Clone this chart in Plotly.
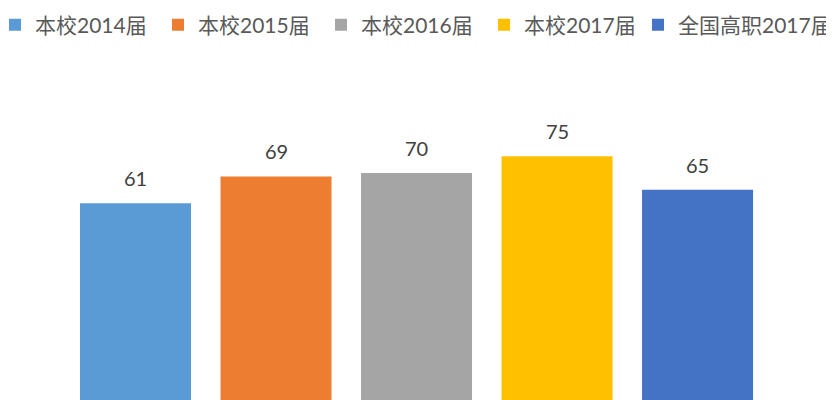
import plotly.graph_objects as go

series_names = ['本校2014届', '本校2015届', '本校2016届', '本校2017届', '全国高职2017届']
values = [61, 69, 70, 75, 65]
colors = ['#5B9BD5', '#ED7D31', '#A5A5A5', '#FFC000', '#4472C4']
# last entry goes to its own legend so its longer label is not clipped
legend_ids = ['legend', 'legend', 'legend', 'legend', 'legend2']

font_family = 'Lato, "Noto Sans CJK SC", sans-serif'

fig = go.Figure()
for name, val, col, lg in zip(series_names, values, colors, legend_ids):
    fig.add_trace(
        go.Bar(
            x=[name],
            y=[val],
            name=name,
            legend=lg,
            marker=dict(color=col, line=dict(width=0)),
        )
    )
    # value label above each bar
    fig.add_annotation(
        x=name, y=val, text=str(val),
        showarrow=False, yanchor='bottom', yshift=11,
        font=dict(size=20, color='#404040', family=font_family),
    )

legend_style = dict(
    orientation='h',
    xref='container',
    yref='container',
    xanchor='left',
    y=0.9575,
    yanchor='middle',
    indentation=-13,
    font=dict(size=21, color='#595959', family=font_family),
    itemclick=False,
)

fig.update_layout(
    width=834,
    height=400,
    barmode='overlay',
    bargap=0.21,
    plot_bgcolor='white',
    paper_bgcolor='white',
    showlegend=True,
    # full-width plot area so the one-row legend fits; x range places the bars
    margin=dict(l=0, r=0, t=52, b=0),
    font=dict(family=font_family, color='#595959'),
    legend=dict(legend_style, x=0, entrywidth=131, entrywidthmode='pixels'),
    legend2=dict(legend_style, x=643 / 834),
)
fig.update_xaxes(visible=False, range=[-0.9075, 5.028])
fig.update_yaxes(visible=False, range=[0, 103.7])

fig.write_html("out.html")
